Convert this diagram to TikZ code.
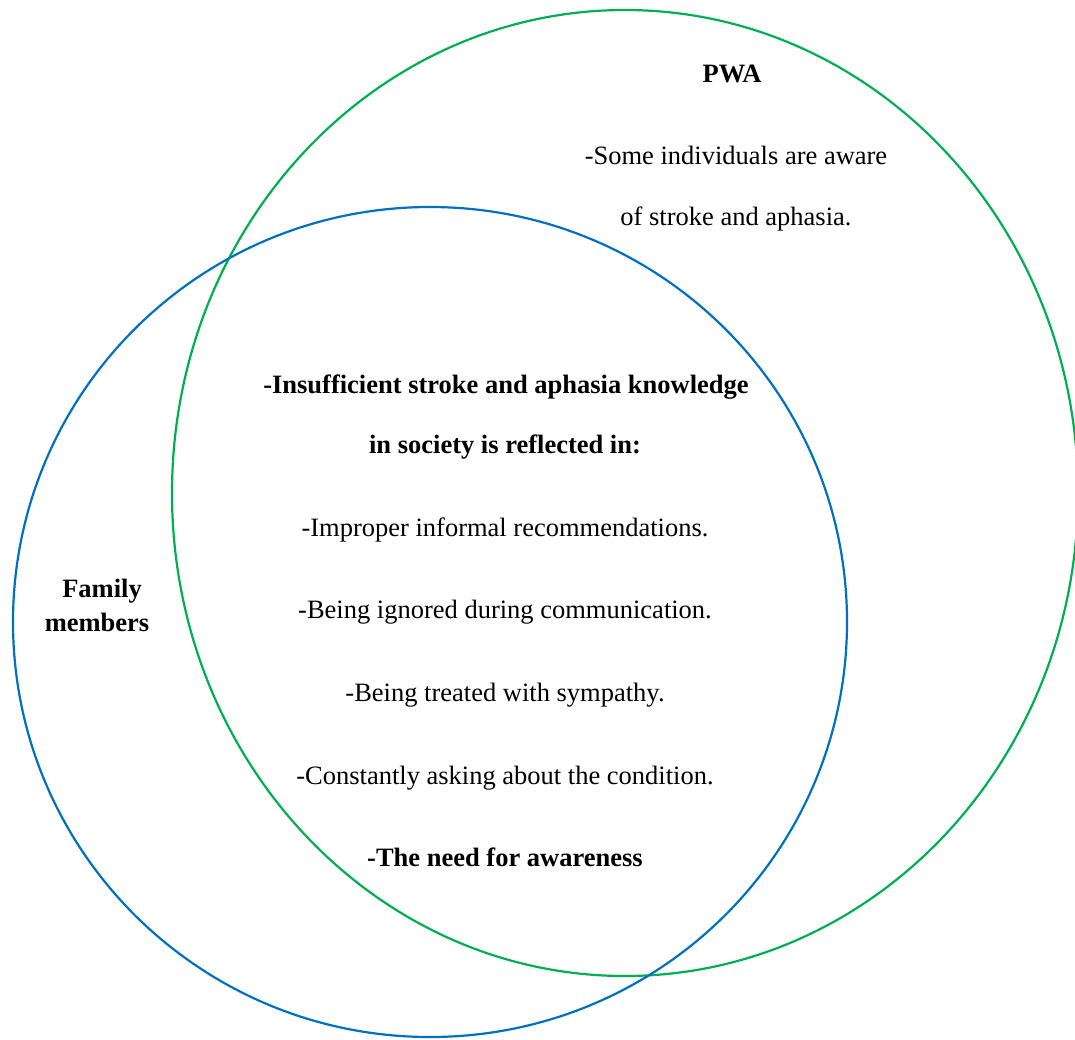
\documentclass[tikz,border=0pt]{standalone}
\usepackage{fontspec}
\setmainfont{Liberation Serif}
\definecolor{setgreen}{HTML}{00B050}
\definecolor{setblue}{HTML}{0070C0}
\begin{document}
\begin{tikzpicture}[x=1pt,y=-1pt,
  setline/.style={line width=2.2pt},
  lbl/.style={anchor=base,inner sep=0pt,font=\fontsize{26.5}{32}\selectfont},
  blbl/.style={lbl,font=\fontsize{26.5}{32}\selectfont\bfseries}]
\useasboundingbox (0,0) rectangle (1075,1039);
% the two sets
\draw[setline,setgreen] (625,493) ellipse [x radius=453, y radius=483];
\draw[setline,setblue] (430,622) ellipse [x radius=417, y radius=415];
% PWA set
\node[blbl] (pwa) at (732,82) {PWA};
\node[lbl] (aware1) at (736,164) {-Some individuals are aware};
\node[lbl] (aware2) at (736,225) {of stroke and aphasia.};
% family set
\node[blbl] (fam1) at (102,597) {Family};
\node[blbl] (fam2) at (97,631) {members};
% shared region
\node[blbl] (know1) at (506,393) {-Insufficient stroke and aphasia knowledge};
\node[blbl] (know2) at (505,453) {in society is reflected in:};
\node[lbl] (rec) at (505,536) {-Improper informal recommendations.};
\node[lbl] (ign) at (505,618) {-Being ignored during communication.};
\node[lbl] (sym) at (505,701) {-Being treated with sympathy.};
\node[lbl] (ask) at (505,784) {-Constantly asking about the condition.};
\node[blbl] (need) at (505,866) {-The need for awareness};
\end{tikzpicture}
\end{document}
